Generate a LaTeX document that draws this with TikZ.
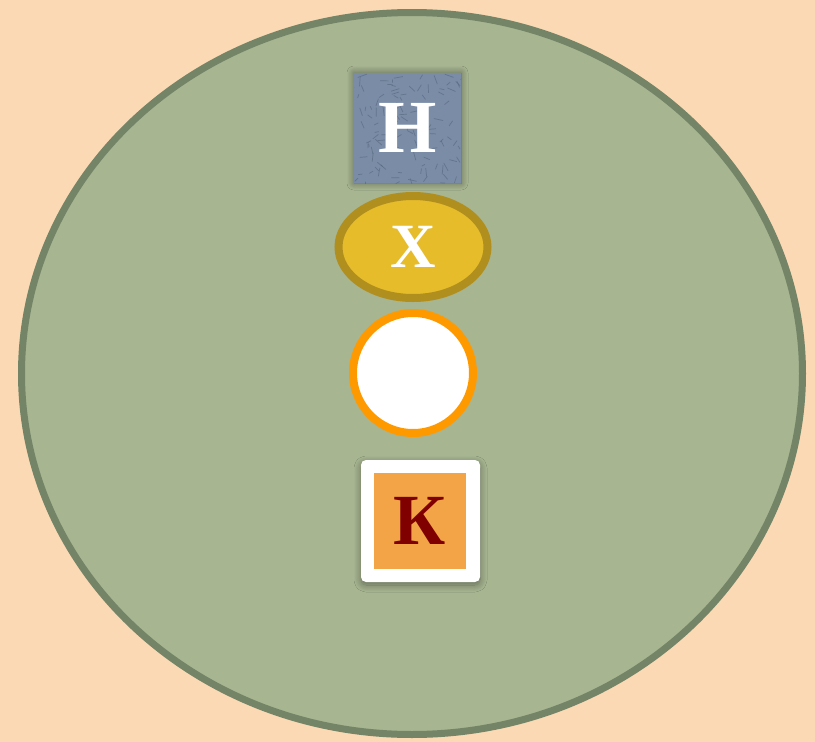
\documentclass[tikz,border=0pt]{standalone}
\usepackage{fontspec}
\setmainfont{Liberation Serif}
\usetikzlibrary{shapes.geometric,shadows.blur}
\definecolor{bgpeach}{HTML}{FBD9B5}
\definecolor{cellfill}{HTML}{A7B591}
\definecolor{celledge}{HTML}{738467}
\definecolor{hfill}{HTML}{7A8CA6}
\definecolor{htex}{HTML}{56657D}
\definecolor{xfill}{HTML}{E6BC2B}
\definecolor{xedge}{HTML}{B08F1F}
\definecolor{oedge}{HTML}{FF9900}
\definecolor{kfill}{HTML}{F2A447}
\definecolor{kdark}{HTML}{800000}
\tikzset{
  letter/.style={font=\bfseries\fontsize{#1}{#1}\selectfont},
  cellbody/.style={ellipse, fill=cellfill, draw=celledge, line width=7pt, inner sep=0pt},
  hbox/.style={rectangle, fill=hfill, inner sep=0pt, minimum width=107pt, minimum height=110pt,
     blur shadow={shadow xshift=0pt, shadow yshift=0pt, shadow blur radius=7pt, shadow blur steps=12, shadow opacity=45}},
  xoval/.style={ellipse, fill=xfill, draw=xedge, line width=8pt, inner sep=0pt, minimum width=149pt, minimum height=102pt},
  ring/.style={circle, fill=white, draw=oedge, line width=8pt, inner sep=0pt, minimum size=120pt},
  kframe/.style={rectangle, rounded corners=5pt, fill=white, inner sep=0pt, minimum width=119pt, minimum height=122pt,
     blur shadow={shadow xshift=0pt, shadow yshift=-3pt, shadow blur radius=7pt, shadow blur steps=12, shadow opacity=40}},
  kinner/.style={rectangle, fill=kfill, inner sep=0pt, minimum width=92pt, minimum height=96pt}
}
\begin{document}
\begin{tikzpicture}[x=1pt,y=-1pt]
\fill[bgpeach] (0,0) rectangle (815,742);
\useasboundingbox (0,0) rectangle (815,742);
\node[cellbody, minimum width=781pt, minimum height=722pt] (cell) at (412,373.5) {};
\node[hbox] (hsq) at (407.5,128) {};
\begin{scope}
\clip (354,73) rectangle (461,183);
\pgfmathsetseed{7}
\foreach \i in {1,...,110} {
  \pgfmathsetmacro{\px}{354+rnd*107}
  \pgfmathsetmacro{\py}{73+rnd*110}
  \pgfmathsetmacro{\ang}{rnd*180}
  \draw[htex, line width=0.7pt, opacity=0.6] (\px,\py) -- ++(\ang:{3+rnd*7});
}
\end{scope}
\node[letter=75, text=white] (hlet) at (hsq.center) {Н};
\node[xoval] (xov) at (413,247) {};
\node[letter=63, text=white] (xlet) at (xov.center) {Х};
\node[ring] (circ) at (413,373) {};
\node[kframe] (kfr) at (420.5,521) {};
\node[kinner] (kin) at (420,521) {};
\node[letter=72, text=kdark] (klet) at (kin.center) {К};
\end{tikzpicture}
\end{document}
